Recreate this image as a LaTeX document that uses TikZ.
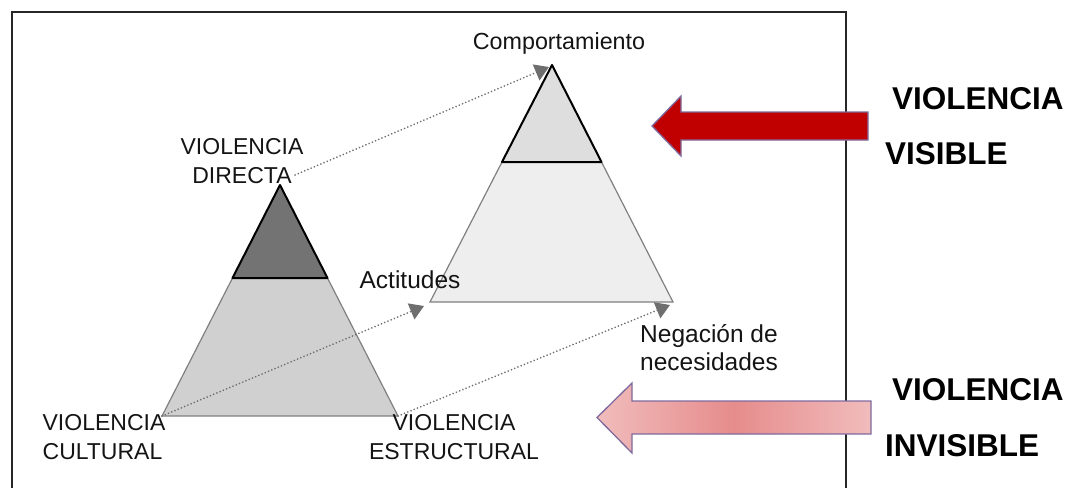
\documentclass[tikz,border=0pt]{standalone}
\usepackage{fontspec}
\setmainfont{Liberation Sans}
\usepackage{xcolor}
\usetikzlibrary{arrows.meta}
\definecolor{txtgray}{HTML}{141414}
\definecolor{darktop}{HTML}{737373}
\definecolor{lowgray}{HTML}{D0D0D0}
\definecolor{lighttop}{HTML}{DEDEDE}
\definecolor{lowlight}{HTML}{EEEEEE}
\definecolor{edgegray}{HTML}{808080}
\definecolor{dotgray}{HTML}{6E6E6E}
\definecolor{visred}{HTML}{C00000}
\definecolor{arrline}{HTML}{7F6A9E}
\definecolor{pinkend}{HTML}{F1BCBC}
\definecolor{pinkmid}{HTML}{E68C8C}
\tikzset{
 lbl/.style={inner sep=0, text=txtgray, font=\fontsize{23}{29}\selectfont},
 lbls/.style={inner sep=0, text=txtgray, font=\fontsize{#1}{28}\selectfont},
 side/.style={inner sep=0, anchor=west, font=\fontsize{31.5}{36}\selectfont\bfseries},
 dotarr/.style={dotgray, line width=1.8pt, line cap=round, dash pattern=on 0.1pt off 3.4pt,
   -{Triangle[length=14pt,width=17pt,fill=dotgray]}},
}

\begin{document}
\begin{tikzpicture}[x=1pt,y=-1pt]
\useasboundingbox (0,0) rectangle (1070,487);
\draw[black!85, line width=2.4pt] (12,490) -- (12,12) -- (846,12) -- (846,490);

\coordinate (la) at (280,185);
\coordinate (lsl) at (232.5,278);
\coordinate (lsr) at (327.5,278);
\coordinate (lbl) at (162,416);
\coordinate (lbr) at (398,416);
\filldraw[fill=lowgray, draw=edgegray, line width=1.2pt] (lsl) -- (lsr) -- (lbr) -- (lbl) -- cycle;
\filldraw[fill=darktop, draw=black, line width=2pt, line join=round] (la) -- (lsr) -- (lsl) -- cycle;

\coordinate (ra) at (552,65);
\coordinate (rsl) at (502,162);
\coordinate (rsr) at (601.5,162);
\coordinate (rbl) at (430,302);
\coordinate (rbr) at (673,302);
\filldraw[fill=lowlight, draw=edgegray, line width=1.2pt] (rsl) -- (rsr) -- (rbr) -- (rbl) -- cycle;
\filldraw[fill=lighttop, draw=black, line width=2pt, line join=round] (ra) -- (rsr) -- (rsl) -- cycle;

\filldraw[fill=visred, draw=arrline, line width=1.3pt]
 (868,112) -- (681,112) -- (681,96) -- (652,126) -- (681,156) -- (681,140) -- (868,140) -- cycle;
\shade[left color=pinkend, right color=pinkend, middle color=pinkmid]
 (871,401) -- (632,401) -- (632,383) -- (597,417.5) -- (632,453) -- (632,434) -- (871,434) -- cycle;
\draw[arrline, line width=1.3pt]
 (871,401) -- (632,401) -- (632,383) -- (597,417.5) -- (632,453) -- (632,434) -- (871,434) -- cycle;

\node[lbl, align=center] (vdir) at (242,161) {VIOLENCIA\\DIRECTA};
\node[lbl, align=left] (vcul) at (104,437) {VIOLENCIA\\CULTURAL};
\node[lbl, align=center] (vest) at (454,437) {VIOLENCIA\\ESTRUCTURAL};
\node[lbls=23.3] (comp) at (559,43) {Comportamiento};
\node[lbls=24.5] (acti) at (410,280) {Actitudes};
\node[lbls=24.5, align=left] (nega) at (709,348) {Negación de\\necesidades};

\node[side] (vis1) at (892,99) {VIOLENCIA};
\node[side] (vis2) at (885,154) {VISIBLE};
\node[side] (inv1) at (892,390) {VIOLENCIA};
\node[side] (inv2) at (885,446) {INVISIBLE};

\coordinate (d0) at (295,175);
\coordinate (e1) at (549,67);
\coordinate (e2) at (424,306);
\coordinate (e3) at (670,305);
\draw[dotarr] (d0) -- (e1);
\draw[dotarr] (lbl) -- (e2);
\draw[dotarr] (lbr) -- (e3);
\end{tikzpicture}
\end{document}
